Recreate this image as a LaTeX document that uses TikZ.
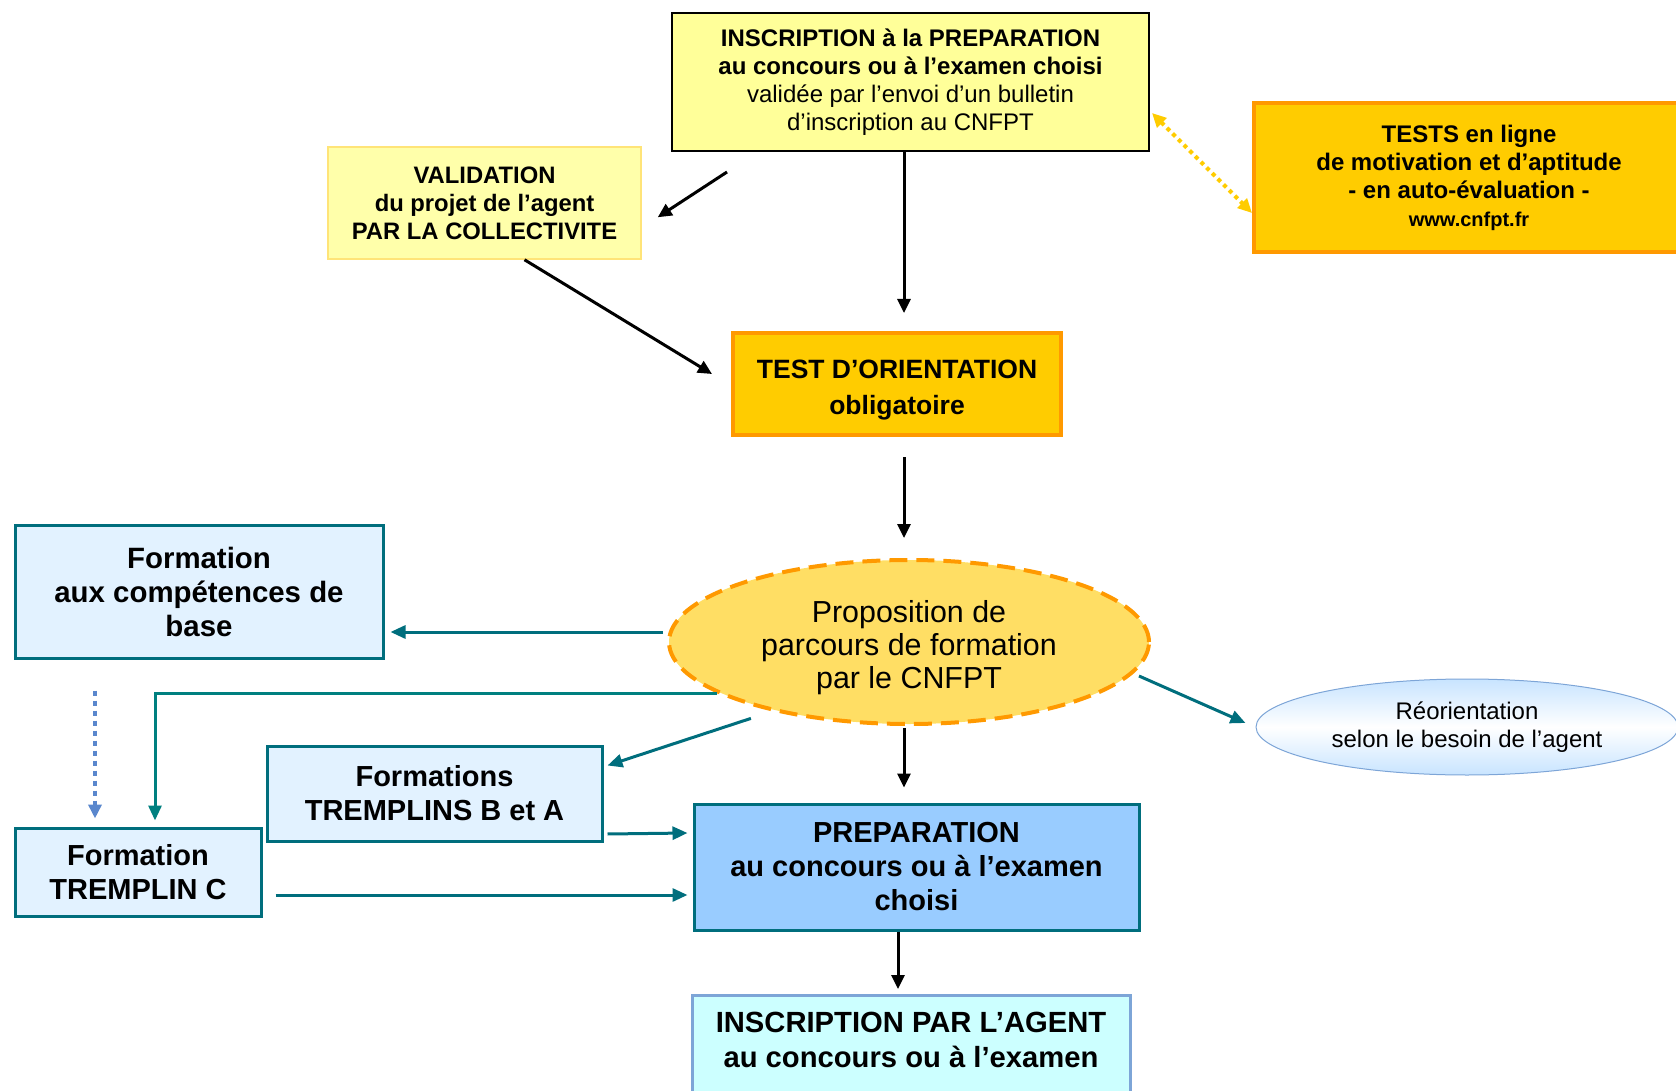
\documentclass[tikz,border=0pt]{standalone}
\usepackage{fontspec}
\setmainfont{Liberation Sans}
\usepackage{tikz}
\usetikzlibrary{positioning,arrows.meta,shapes.geometric}
\usepackage{xcolor}

\definecolor{paleyellow}{RGB}{255,255,153}
\definecolor{creamyellow}{RGB}{255,255,170}
\definecolor{creamline}{RGB}{255,228,120}
\definecolor{gold}{RGB}{255,204,0}
\definecolor{orangeline}{RGB}{255,153,0}
\definecolor{propfill}{RGB}{255,222,100}
\definecolor{tealline}{RGB}{0,110,125}
\definecolor{tealgreen}{RGB}{0,128,128}
\definecolor{skyfill}{RGB}{226,242,255}
\definecolor{prepfill}{RGB}{153,204,255}
\definecolor{agentfill}{RGB}{204,255,255}
\definecolor{paleblue}{RGB}{125,165,215}
\definecolor{reorfill}{RGB}{200,228,255}
\definecolor{dotblue}{RGB}{90,135,205}

\newcommand{\fsz}[2]{\fontsize{#1}{#2}\selectfont}

\tikzset{
	box/.style={rectangle, align=center, inner sep=0pt},
	inscbox/.style={box, fill=paleyellow, draw=black, line width=2pt},
	validbox/.style={box, fill=creamyellow, draw=creamline, line width=1.5pt},
	goldbox/.style={box, fill=gold, draw=orangeline, line width=4pt},
	tealbox/.style={box, fill=skyfill, draw=tealline, line width=3pt},
	prepbox/.style={box, fill=prepfill, draw=tealline, line width=3pt},
	agentbox/.style={box, fill=agentfill, draw=paleblue, line width=3pt},
	blackarrow/.style={line width=3pt, -{Triangle[length=14pt,width=13pt]}},
	tealarrow/.style={tealline, line width=3pt, -{Triangle[length=15pt,width=13pt]}},
}

\begin{document}
\begin{tikzpicture}[x=1pt, y=-1pt]
	\useasboundingbox (0, 0) rectangle (1676, 1091);
	\clip (0, 0) rectangle (1676, 1091);

	% top row
	\node [inscbox, minimum width=477pt, minimum height=138pt, font=\fsz{24}{28}] (insc) at (910.5, 82)
		{\textbf{INSCRIPTION à la PREPARATION}\\ \textbf{au concours ou à l’examen choisi}\\ validée par l’envoi d’un bulletin\\ d’inscription au CNFPT};
	\node [validbox, minimum width=313pt, minimum height=112pt, font=\fsz{23.8}{28}\bfseries] (valid) at (484.5, 203)
		{VALIDATION\\ du projet de l’agent\\ PAR LA COLLECTIVITE};
	\node [goldbox, minimum width=430pt, minimum height=149pt, font=\fsz{24}{28}\bfseries] (tests) at (1469, 177.5)
		{TESTS en ligne\\ de motivation et d’aptitude\\ - en auto-évaluation -\\ {\fsz{20}{28}www.cnfpt.fr}};
	\node [goldbox, minimum width=328pt, minimum height=102pt, text height=66pt, text depth=5.6pt, font=\fsz{26.5}{36}\bfseries] (orient) at (897, 384)
		{TEST D’ORIENTATION\\ obligatoire};

	% proposition and reorientation
	\node [ellipse, align=center, inner sep=0pt, minimum width=480pt, minimum height=164pt, text height=99pt, text depth=6.4pt,
		fill=propfill, draw=orangeline, line width=4pt, dash pattern=on 18pt off 9pt, font=\fsz{30.4}{33}] (prop) at (909, 642)
		{Proposition de\\ parcours de formation\\ par le CNFPT};
	\node [ellipse, align=center, inner sep=0pt, minimum width=422pt, minimum height=96pt,
		top color=reorfill, bottom color=reorfill, middle color=white, draw=paleblue, line width=1pt, font=\fsz{24}{28}] (reor) at (1467, 727)
		{Réorientation\\ selon le besoin de l’agent};

	% formations
	\node [tealbox, minimum width=368pt, minimum height=133pt, font=\fsz{29.4}{34}\bfseries] (base) at (199, 591.5)
		{Formation\\ aux compétences de\\ base};
	\node [tealbox, minimum width=335pt, minimum height=95pt, font=\fsz{29}{34}\bfseries] (bA) at (434.5, 793.5)
		{Formations\\ TREMPLINS B et A};
	\node [tealbox, minimum width=246pt, minimum height=88pt, font=\fsz{29}{34}\bfseries] (C) at (138, 872)
		{Formation\\ TREMPLIN C};
	\node [prepbox, minimum width=445pt, minimum height=126pt, font=\fsz{29}{34}\bfseries] (prep) at (916.5, 867)
		{PREPARATION\\ au concours ou à l’examen\\ choisi};
	\node [agentbox, anchor=north, minimum width=438pt, inner ysep=17pt, text depth=70pt, font=\fsz{29.2}{35}\bfseries] (agent) at (911, 994)
		{INSCRIPTION PAR L’AGENT\\ au concours ou à l’examen};

	% black arrows
	\draw [blackarrow] ([shift={(56,20)}]insc.south west) -- ([shift={(16,71)}]valid.north east);
	\draw [blackarrow] ([shift={(40,0)}]valid.south) -- ([shift={(-19,-10)}]orient.west);
	\draw [blackarrow] ([shift={(-6.5,0)}]insc.south) -- ([shift={(7,-18)}]orient.north);
	\draw [blackarrow] ([shift={(7,20)}]orient.south) -- ([shift={(-5,-20)}]prop.north);
	\draw [blackarrow] ([shift={(-5,2)}]prop.south) -- ([shift={(-12.5,-15)}]prep.north);
	\draw [blackarrow] ([shift={(-18.5,0)}]prep.south) -- ([shift={(-13,-5)}]agent.north);
	\draw [gold, line width=4pt, dash pattern=on 4pt off 4pt, {Triangle[length=14pt,width=13pt]}-{Triangle[length=14pt,width=13pt]}]
		([shift={(2,101)}]insc.north east) -- ([shift={(0,-41)}]tests.south west);

	% teal arrows
	\draw [tealarrow] ([shift={(-4,-10)}]prop.west) -- ([shift={(6,40.5)}]base.east);
	\draw [tealarrow, tealgreen] (prop.195) -| ([shift={(17,-6)}]C.north);
	\draw [dotblue, line width=4pt, dash pattern=on 5pt off 5pt, -{Triangle[length=14pt,width=13pt]}]
		([shift={(-104,31)}]base.south) -- ([shift={(-43,-8)}]C.north);
	\draw [tealarrow] ([shift={(13,17)}]prop.south west) -- ([shift={(4,21)}]bA.north east);
	\draw [tealarrow] ([shift={(-12,34)}]prop.east) -- ([shift={(-10,-4)}]reor.west);
	\draw [tealarrow] ([shift={(4,40.5)}]bA.east) -- ([shift={(-5,-34)}]prep.west);
	\draw [tealarrow] ([shift={(13,23)}]C.east) -- ([shift={(-5,28)}]prep.west);
\end{tikzpicture}
\end{document}
